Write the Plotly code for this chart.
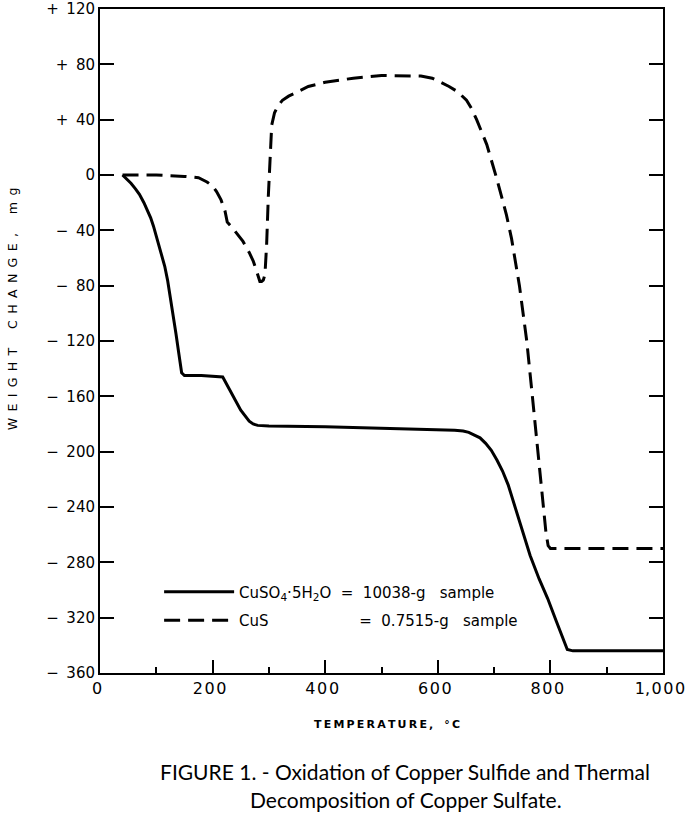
import plotly.graph_objects as go

# CuSO4·5H2O (solid line)
cuso4_t = [40, 48, 55, 63, 70, 78, 85, 90, 95, 100, 105, 110, 115, 120, 125, 130, 135, 140, 145, 150, 180, 218,
           230, 250, 265, 272, 280, 300, 400, 500, 600, 630, 645, 655, 665, 675, 685, 695, 705, 715, 725,
           737, 750, 764, 780, 795, 810, 822, 830, 840, 1000]
cuso4_w = [0, -3, -6, -10, -14, -20, -26, -31, -37, -44, -51, -58, -66, -76, -88, -101, -115, -129, -143, -145, -145, -146,
           -155, -170, -178, -180, -181, -181.5, -182, -183, -184, -184.5, -185, -186, -188, -190, -194, -199, -206, -214, -224,
           -240, -256, -275, -292, -306, -322, -335, -343, -344, -344]

# CuS (dashed line)
cus_t = [40, 100, 150, 175, 190, 200, 207, 215, 222, 226, 235, 245, 254, 265, 272, 277, 281, 284, 287, 290, 293, 296,
         299, 302, 305, 310, 316, 324, 335, 350, 370, 400, 450, 500, 540, 570, 590, 605, 620, 636, 651, 660, 669, 687,
         705, 722, 731, 745, 758, 768, 778, 786, 792, 796, 800, 850, 1000]
cus_w = [0, 0, -1, -2, -5, -8, -12, -18, -26, -34, -38, -43, -48, -56, -62, -68, -74, -77, -77, -76, -72, -50,
         -15, 16, 36, 45, 50, 54, 57, 60, 64, 67, 70, 72, 72, 71.5, 70, 67, 64, 60, 54, 48, 40, 22,
         -3, -29, -46, -80, -120, -160, -200, -235, -258, -268, -270, -270, -270]

y_tickvals = [120, 80, 40, 0, -40, -80, -120, -160, -200, -240, -280, -320, -360]
y_ticktext = ["+\u2002120", "+\u200280", "+\u200240", "0", "\u2212\u200240", "\u2212\u200280", "\u2212\u2002120",
              "\u2212\u2002160", "\u2212\u2002200", "\u2212\u2002240", "\u2212\u2002280", "\u2212\u2002320", "\u2212\u2002360"]
x_tickvals = [0, 200, 400, 600, 800, 1000]
x_ticktext = ["0", "2\u200a0\u200a0", "4\u200a0\u200a0", "6\u200a0\u200a0", "8\u200a0\u200a0", "1,\u200a0\u200a0\u200a0"]

nb = "\u00a0"
name1 = "CuSO<sub>4</sub>\u00b75H<sub>2</sub>O" + nb * 2 + "=" + nb * 2 + "10038-g" + nb * 3 + "sample"
name2 = "CuS" + nb * 19 + "=" + nb * 2 + "0.7515-g" + nb * 3 + "sample"

fig = go.Figure()
fig.add_trace(go.Scatter(x=cuso4_t, y=cuso4_w, mode="lines", name=name1, legendgroup="a",
                         line=dict(color="black", width=3)))
fig.add_trace(go.Scatter(x=cus_t, y=cus_w, mode="lines", name=name2, legendgroup="b",
                         line=dict(color="black", width=3, dash="16px,8px")))

font_main = "DejaVu Sans, Liberation Sans, sans-serif"
cap_font = "Lato, Liberation Sans, sans-serif"

fig.update_layout(
    width=685, height=817,
    margin=dict(l=100, r=22, t=9, b=144, autoexpand=False),
    paper_bgcolor="white", plot_bgcolor="white",
    font=dict(family=font_main, color="black", size=14),
    showlegend=True,
    legend=dict(x=0.105, y=0.147, xanchor="left", yanchor="top", bgcolor="rgba(0,0,0,0)",
                font=dict(size=15, family=font_main), itemwidth=70, tracegroupgap=6,
                traceorder="grouped"),
    xaxis=dict(range=[0, 1000], tickvals=x_tickvals, ticktext=x_ticktext,
               ticks="inside", ticklen=13, tickwidth=1.5, tickcolor="black",
               minor=dict(dtick=100, ticks="inside", ticklen=6, tickwidth=1.5, tickcolor="black"),
               showline=True, linecolor="black", linewidth=2, mirror=True,
               showgrid=False, zeroline=False, tickfont=dict(size=16), automargin=False,
               ticklabeloverflow="allow", ticklabelshift=-3, fixedrange=True),
    yaxis=dict(range=[-360, 120], tickvals=y_tickvals, ticktext=y_ticktext,
               ticks="inside", ticklen=14, tickwidth=1.5, tickcolor="black",
               showline=True, linecolor="black", linewidth=2, mirror="ticks",
               showgrid=False, zeroline=False, tickfont=dict(size=15), automargin=False,
               ticklabeloverflow="allow", fixedrange=True),
    annotations=[
        dict(text="W\u2002E\u2002I\u2002G\u2002H\u2002T\u2003\u2002C\u2002H\u2002A\u2002N\u2002G\u2002E\u2002,\u2003\u2002m\u2002g",
             textangle=-90,
             xref="paper", yref="paper", x=-0.156, y=0.548, showarrow=False,
             font=dict(size=12.6), xanchor="center", yanchor="middle"),
        dict(text="<b>T\u2009E\u2009M\u2009P\u2009E\u2009R\u2009A\u2009T\u2009U\u2009R\u2009E\u2009,\u2003\u00b0\u2009C</b>",
             xref="paper", yref="paper", x=0.51, y=-0.078, showarrow=False,
             font=dict(size=11), xanchor="center", yanchor="middle"),
        dict(text="FIGURE 1. - Oxidation of Copper Sulfide and Thermal",
             xref="paper", yref="paper", x=0.103, y=-0.1484, showarrow=False,
             font=dict(size=21, family=cap_font),
             xanchor="left", yanchor="middle"),
        dict(text="Decomposition of Copper Sulfate.",
             xref="paper", yref="paper", x=0.263, y=-0.190, showarrow=False,
             font=dict(size=21, family=cap_font),
             xanchor="left", yanchor="middle"),
    ],
)

fig.write_html("out.html")
